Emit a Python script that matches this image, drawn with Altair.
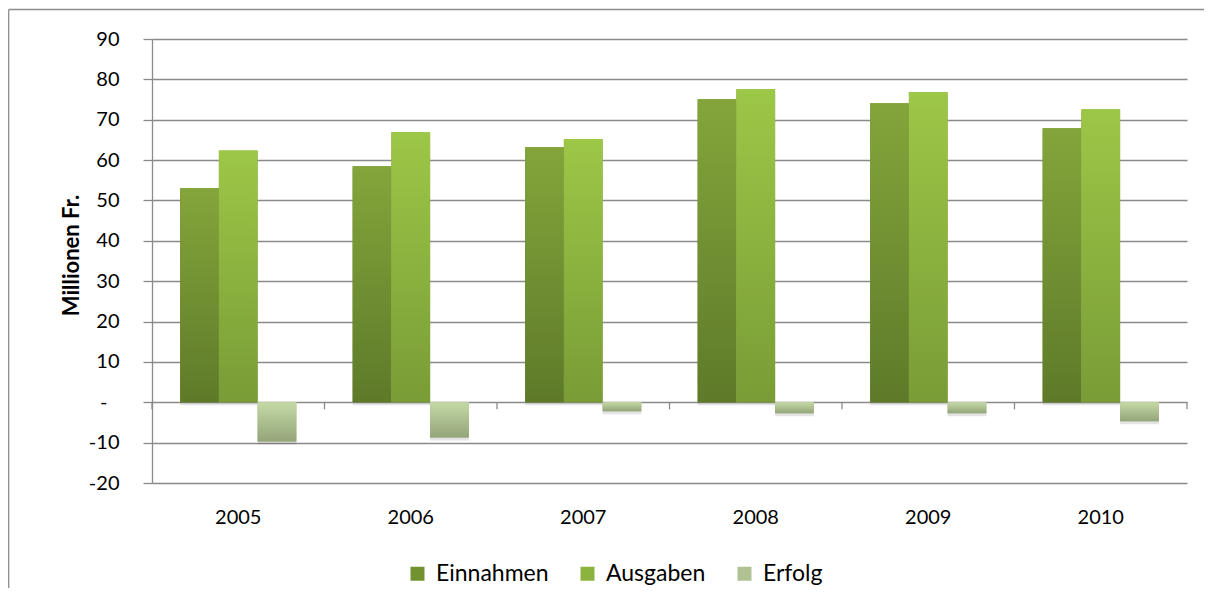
import altair as alt
import pandas as pd

years = ["2005", "2006", "2007", "2008", "2009", "2010"]
series = ["Einnahmen", "Ausgaben", "Erfolg"]
einnahmen = [53.0, 58.5, 63.2, 75.1, 74.1, 67.9]
ausgaben = [62.4, 66.9, 65.2, 77.6, 76.8, 72.6]
erfolg = [-9.7, -8.7, -2.2, -2.7, -2.7, -4.7]
y_ticks = [-20, -10, 0, 10, 20, 30, 40, 50, 60, 70, 80, 90]

rows = []
for i, yr in enumerate(years):
    rows.append({"year": yr, "series": "Einnahmen", "value": einnahmen[i]})
    rows.append({"year": yr, "series": "Ausgaben", "value": ausgaben[i]})
    rows.append({"year": yr, "series": "Erfolg", "value": erfolg[i]})
df = pd.DataFrame(rows)

FONT = "Lato"
GRID = "#8a8a8a"
W, H = 1035, 444
PAD = {"left": 144, "top": 31, "right": 17, "bottom": 105}

def grad(top, bottom):
    return alt.Gradient(
        gradient="linear", x1=0, y1=0, x2=0, y2=1,
        stops=[alt.GradientStop(offset=0, color=top),
               alt.GradientStop(offset=1, color=bottom)],
    )

gradients = {
    "Einnahmen": grad("#84A53B", "#5E7A29"),
    "Ausgaben": grad("#9DC747", "#799C36"),
    "Erfolg": grad("#C5D9A5", "#94A579"),
}
legend_colors = ["#72922F", "#8BB33E", "#B0C293"]

x_enc = alt.X(
    "year:N",
    sort=years,
    scale=alt.Scale(paddingInner=0, paddingOuter=0),
    axis=alt.Axis(
        title=None, domain=False, ticks=False, tickSize=0, labelAngle=0,
        labelFont=FONT, labelFontSize=20, labelColor="#000000",
        labelPadding=34, labelBaseline="middle", grid=False,
    ),
)
xo_enc = alt.XOffset(
    "series:N",
    scale=alt.Scale(domain=series, paddingInner=0, paddingOuter=0.727),
)
y_enc = alt.Y(
    "value:Q",
    scale=alt.Scale(domain=[-20, 90], nice=False, zero=False),
    axis=alt.Axis(
        values=y_ticks,
        title="Millionen Fr.",
        titleFont=FONT, titleFontSize=22, titleFontWeight="bold", titleColor="#000000",
        titleAngle=270, titleAlign="center", titleBaseline="middle",
        titleX=-81, titleY=216,
        labelFont=FONT, labelFontSize=20, labelColor="#000000",
        labelExpr="datum.value == 0 ? '-' : toString(datum.value)",
        tickSize=9, tickColor=GRID, tickWidth=1.3,
        labelPadding={"condition": {"test": "datum.value === 0", "value": 36}, "value": 24},
        domainColor=GRID, domainWidth=1.3,
        grid=True, gridColor=GRID, gridWidth=1.3,
    ),
)

one = pd.DataFrame({"a": [0]})
right_edge = W + PAD["right"]
bottom_edge = H + PAD["bottom"]
border_top = alt.Chart(one).mark_rule(color="#8c8c8c", strokeWidth=1.3, clip=False).encode(
    x=alt.value(-143.3), x2=alt.value(right_edge), y=alt.value(-29.5),
)
border_left = alt.Chart(one).mark_rule(color="#8c8c8c", strokeWidth=1.3, clip=False).encode(
    x=alt.value(-143.3), y=alt.value(-29.5), y2=alt.value(bottom_edge),
)

base = alt.Chart(df).encode(x=x_enc, xOffset=xo_enc, y=y_enc, y2=alt.datum(0))

legend_layer = base.mark_bar().encode(
    color=alt.Color(
        "series:N",
        scale=alt.Scale(domain=series, range=legend_colors),
        legend=alt.Legend(
            title=None, orient="none", direction="horizontal",
            legendX=254, legendY=523, padding=0,
            symbolType="square", symbolSize=196, symbolStrokeWidth=0,
            labelFont=FONT, labelFontSize=23, labelColor="#000000",
            labelOffset=7, columnPadding=27,
        ),
    )
)

shadow_layer = base.mark_bar(color="#303030", opacity=0.13, yOffset=3, y2Offset=3)

bar_layers = [
    base.transform_filter(alt.datum.series == s).mark_bar(fill=gradients[s])
    for s in series
]

tick_df = pd.DataFrame({"year": years})
tick_rules = alt.Chart(tick_df).mark_rule(color=GRID, strokeWidth=1.3).encode(
    x=alt.X("year:N", sort=years, bandPosition=0),
    y=alt.datum(0), y2=alt.datum(-1.75),
)
tick_end = alt.Chart(pd.DataFrame({"year": ["2010"]})).mark_rule(color=GRID, strokeWidth=1.3).encode(
    x=alt.X("year:N", sort=years, bandPosition=1),
    y=alt.datum(0), y2=alt.datum(-1.75),
)

chart = alt.layer(
    border_top, border_left, legend_layer, shadow_layer, *bar_layers, tick_rules, tick_end
).properties(
    width=W, height=H,
    autosize=alt.AutoSizeParams(type="none"),
    padding=PAD,
    background="#ffffff",
).configure_view(strokeWidth=0)

chart.save("out.html", embed_options={"renderer": "svg", "actions": False})
